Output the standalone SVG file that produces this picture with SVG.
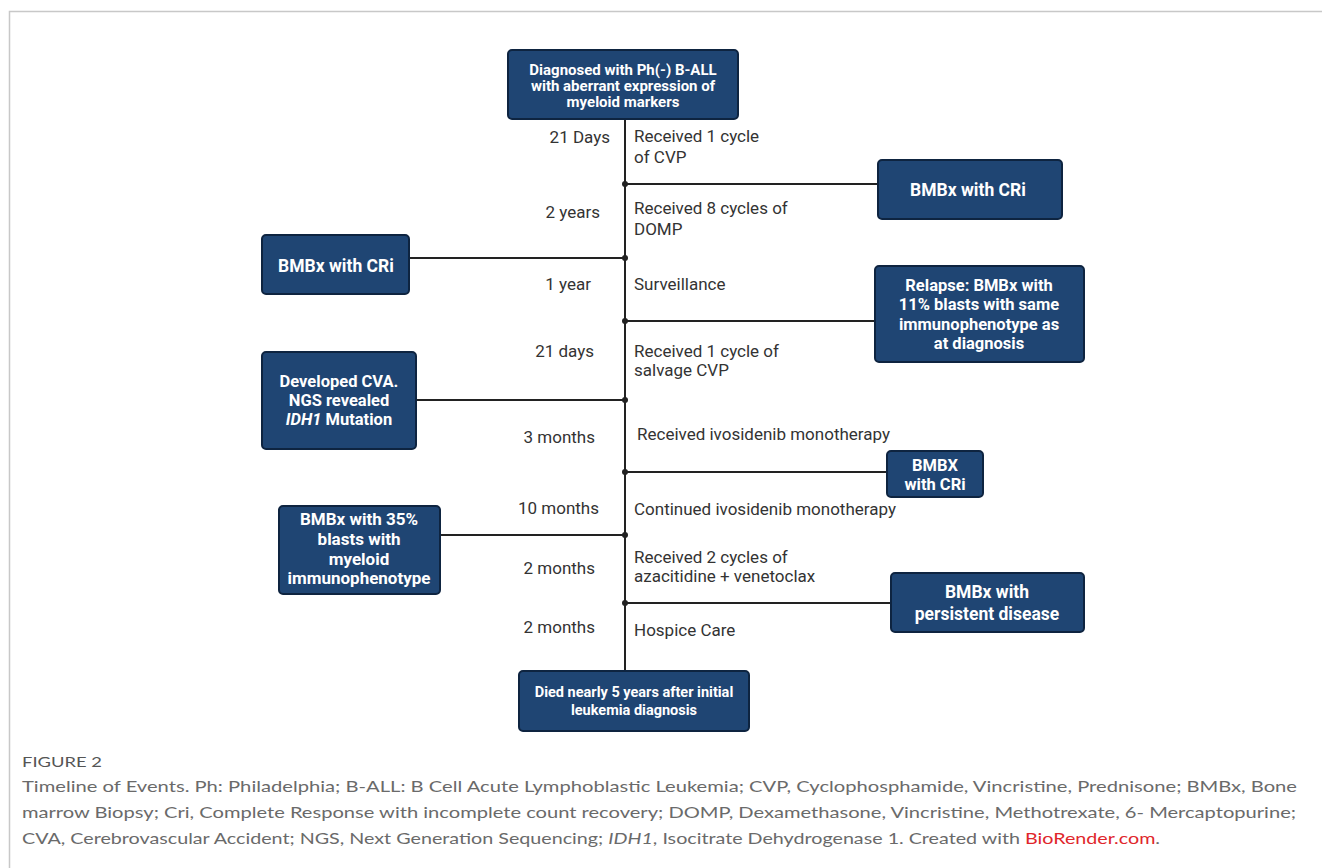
<svg xmlns="http://www.w3.org/2000/svg" width="1322" height="868" viewBox="0 0 1322 868">
<style>
.box{fill:#1f4573;stroke:#0e2440;stroke-width:2}
.bt{font-family:Roboto,"Liberation Sans",sans-serif;font-weight:700;fill:#ffffff;text-anchor:middle}
.lbl{font-family:Roboto,"Liberation Sans",sans-serif;font-size:17px;fill:#333333}
.dur{font-family:Roboto,"Liberation Sans",sans-serif;font-size:17px;fill:#333333;text-anchor:end}
.ln{stroke:#222222;stroke-width:2;fill:none}
.cap{font-family:Lato,"Liberation Sans",sans-serif;font-size:16px;fill:#6a6a6a}
</style>
<rect x="0" y="0" width="1322" height="868" fill="#ffffff"/>
<path d="M9.5 868 V11.5 H1322" fill="none" stroke="#c8c8c8" stroke-width="1.5"/>

<g id="connectors">
<line class="ln" x1="625" y1="119" x2="625" y2="671"/>
<line class="ln" x1="625" y1="184" x2="878" y2="184"/>
<line class="ln" x1="409" y1="258" x2="625" y2="258"/>
<line class="ln" x1="625" y1="321" x2="875" y2="321"/>
<line class="ln" x1="416" y1="400" x2="625" y2="400"/>
<line class="ln" x1="625" y1="472" x2="887" y2="472"/>
<line class="ln" x1="440" y1="535" x2="625" y2="535"/>
<line class="ln" x1="625" y1="603" x2="891" y2="603"/>
<g fill="#222222">
<circle cx="625" cy="184" r="3"/>
<circle cx="625" cy="258" r="3"/>
<circle cx="625" cy="321" r="3"/>
<circle cx="625" cy="400" r="3"/>
<circle cx="625" cy="472" r="3"/>
<circle cx="625" cy="535" r="3"/>
<circle cx="625" cy="603" r="3"/>
</g>
</g>

<g id="durations">
<text class="dur" x="610" y="143">21 Days</text>
<text class="dur" x="600" y="218">2 years</text>
<text class="dur" x="591" y="290">1 year</text>
<text class="dur" x="594" y="357">21 days</text>
<text class="dur" x="595" y="443">3 months</text>
<text class="dur" x="599" y="514">10 months</text>
<text class="dur" x="595" y="574">2 months</text>
<text class="dur" x="595" y="633">2 months</text>
</g>

<g id="events">
<text class="lbl" x="634" y="142">Received 1 cycle</text>
<text class="lbl" x="634" y="163">of CVP</text>
<text class="lbl" x="634" y="214">Received 8 cycles of</text>
<text class="lbl" x="634" y="235">DOMP</text>
<text class="lbl" x="634" y="290">Surveillance</text>
<text class="lbl" x="634" y="357">Received 1 cycle of</text>
<text class="lbl" x="634" y="376">salvage CVP</text>
<text class="lbl" x="637" y="440">Received ivosidenib monotherapy</text>
<text class="lbl" x="634" y="515">Continued ivosidenib monotherapy</text>
<text class="lbl" x="634" y="563">Received 2 cycles of</text>
<text class="lbl" x="634" y="582">azacitidine + venetoclax</text>
<text class="lbl" x="634" y="636">Hospice Care</text>
</g>

<g id="n-diagnosed">
<rect class="box" x="508" y="50" width="230" height="69" rx="4"/>
<text class="bt" font-size="15" x="623" y="75">Diagnosed with Ph(-) B-ALL</text>
<text class="bt" font-size="15" x="623" y="91">with aberrant expression of</text>
<text class="bt" font-size="15" x="623" y="107">myeloid markers</text>
</g>

<g id="n-bmbx1">
<rect class="box" x="878" y="160" width="184" height="59" rx="4"/>
<text class="bt" font-size="17.5" x="968" y="196">BMBx with CRi</text>
</g>

<g id="n-bmbx2">
<rect class="box" x="262" y="235" width="147" height="59" rx="4"/>
<text class="bt" font-size="17.5" x="336" y="272">BMBx with CRi</text>
</g>

<g id="n-relapse">
<rect class="box" x="875" y="266" width="209" height="96" rx="4"/>
<text class="bt" font-size="16.5" x="979" y="291">Relapse: BMBx with</text>
<text class="bt" font-size="16.5" x="979" y="310">11% blasts with same</text>
<text class="bt" font-size="16.5" x="979" y="330">immunophenotype as</text>
<text class="bt" font-size="16.5" x="979" y="349">at diagnosis</text>
</g>

<g id="n-cva">
<rect class="box" x="262" y="352" width="154" height="97" rx="4"/>
<text class="bt" font-size="16.5" x="339" y="387">Developed CVA.</text>
<text class="bt" font-size="16.5" x="339" y="406">NGS revealed</text>
<text class="bt" font-size="16.5" x="339" y="425"><tspan font-style="italic">IDH1</tspan> Mutation</text>
</g>

<g id="n-bmbx3">
<rect class="box" x="887" y="451" width="96" height="46" rx="4"/>
<text class="bt" font-size="16.5" x="935" y="471">BMBX</text>
<text class="bt" font-size="16.5" x="935" y="490">with CRi</text>
</g>

<g id="n-bmbx35">
<rect class="box" x="279" y="506" width="161" height="88" rx="4"/>
<text class="bt" font-size="17" x="359" y="525">BMBx with 35%</text>
<text class="bt" font-size="17" x="359" y="545">blasts with</text>
<text class="bt" font-size="17" x="359" y="565">myeloid</text>
<text class="bt" font-size="17" x="359" y="584">immunophenotype</text>
</g>

<g id="n-persistent">
<rect class="box" x="891" y="573" width="193" height="59" rx="4"/>
<text class="bt" font-size="17.5" x="987" y="598">BMBx with</text>
<text class="bt" font-size="17.5" x="987" y="620">persistent disease</text>
</g>

<g id="n-died">
<rect class="box" x="519" y="671" width="230" height="60" rx="4"/>
<text class="bt" font-size="14.5" x="634" y="697">Died nearly 5 years after initial</text>
<text class="bt" font-size="14.5" x="634" y="715">leukemia diagnosis</text>
</g>

<g id="caption">
<text x="22" y="767" font-family="Lato,'Liberation Sans',sans-serif" font-size="12.5" fill="#555555" textLength="80" lengthAdjust="spacingAndGlyphs">FIGURE 2</text>
<text class="cap" x="22" y="792" textLength="1275" lengthAdjust="spacingAndGlyphs">Timeline of Events. Ph: Philadelphia; B-ALL: B Cell Acute Lymphoblastic Leukemia; CVP, Cyclophosphamide, Vincristine, Prednisone; BMBx, Bone</text>
<text class="cap" x="22" y="818" textLength="1274" lengthAdjust="spacingAndGlyphs">marrow Biopsy; Cri, Complete Response with incomplete count recovery; DOMP, Dexamethasone, Vincristine, Methotrexate, 6- Mercaptopurine;</text>
<text class="cap" x="22" y="844" textLength="1138" lengthAdjust="spacingAndGlyphs">CVA, Cerebrovascular Accident; NGS, Next Generation Sequencing; <tspan font-style="italic">IDH1</tspan>, Isocitrate Dehydrogenase 1.  Created with <tspan fill="#e0262b">BioRender.com</tspan>.</text>
</g>
</svg>
